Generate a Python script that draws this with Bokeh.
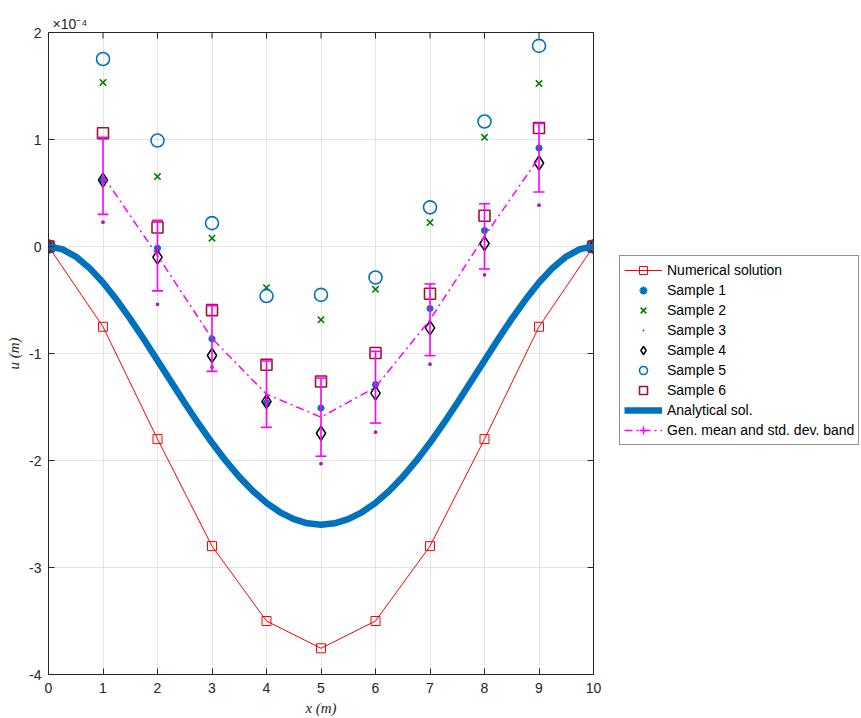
import numpy as np
from bokeh.plotting import figure
from bokeh.models import (Legend, LegendItem, FixedTicker, Whisker, TeeHead,
                          ColumnDataSource, Range1d)
from bokeh.embed import file_html
from bokeh.resources import INLINE

# ---------------- data (values in units of 1e-4 m) ----------------
x_nodes = [0, 1, 2, 3, 4, 5, 6, 7, 8, 9, 10]
numerical = [0, -0.75, -1.80, -2.80, -3.50, -3.755, -3.50, -2.80, -1.80, -0.75, 0]
sample1 = [0, 0.62, -0.016, -0.863, -1.46, -1.51, -1.29, -0.58, 0.15, 0.92, 0]
sample2 = [0, 1.533, 0.654, 0.078, -0.385, -0.685, -0.40, 0.224, 1.02, 1.523, 0]
sample3 = [0, 0.227, -0.54, -1.128, -1.42, -2.03, -1.735, -1.10, -0.265, 0.386, 0]
sample4 = [0, 0.62, -0.10, -1.019, -1.45, -1.745, -1.37, -0.76, 0.028, 0.78, 0]
sample5 = [0, 1.752, 0.99, 0.218, -0.463, -0.452, -0.29, 0.366, 1.168, 1.875, 0]
sample6 = [0, 1.058, 0.178, -0.595, -1.105, -1.262, -0.995, -0.442, 0.287, 1.108, 0]

x_analytical = [0, 0.25, 0.5, 0.75, 1, 1.25, 1.5, 1.75, 2, 2.25, 2.5, 2.75, 3, 3.25,
                3.5, 3.75, 4, 4.25, 4.5, 4.75, 5, 5.25, 5.5, 5.75, 6, 6.25, 6.5,
                6.75, 7, 7.25, 7.5, 7.75, 8, 8.25, 8.5, 8.75, 9, 9.25, 9.5, 9.75, 10]
analytical = [0, -0.025, -0.094, -0.200, -0.337, -0.498, -0.676, -0.867, -1.065,
              -1.265, -1.463, -1.654, -1.835, -2.002, -2.153, -2.285, -2.396,
              -2.484, -2.548, -2.587, -2.600, -2.587, -2.548, -2.484, -2.396,
              -2.285, -2.153, -2.002, -1.835, -1.654, -1.463, -1.265, -1.065,
              -0.867, -0.676, -0.498, -0.337, -0.200, -0.094, -0.025, 0]

x_mean = [1, 2, 3, 4, 5, 6, 7, 8, 9]
gen_mean = [0.66, -0.085, -0.86, -1.38, -1.595, -1.315, -0.685, 0.095, 0.83]
gen_std = [0.36, 0.33, 0.307, 0.31, 0.365, 0.335, 0.335, 0.305, 0.32]

x_ticks = [0, 1, 2, 3, 4, 5, 6, 7, 8, 9, 10]
y_ticks = [-4, -3, -2, -1, 0, 1, 2]
y_tick_labels = ["-4", "-3", "-2", "-1", "0", "1", "2"]
exponent_text = "\u00d710\u207b\u2074"

# ---------------- styles ----------------
AX = "#262626"
BLUE = "#0072BD"
GREEN = "#008000"
PURPLE = "#a81fa3"
DARKRED = "#A2142F"
MAG = "#FF00FF"
FONT = "Liberation Sans"
SERIF = "Liberation Serif"

p = figure(frame_width=545, frame_height=642,
           x_range=Range1d(0, 10), y_range=Range1d(-4, 2),
           output_backend="svg", toolbar_location=None,
           min_border_left=48, min_border_right=268,
           min_border_top=32, min_border_bottom=44,
           background_fill_color="white", border_fill_color="white",
           outline_line_color=AX, outline_line_width=1)

# exponent as title (top-left, above frame)
p.title.text = exponent_text
p.title.align = "left"
p.title.offset = 4
p.title.standoff = 2
p.title.text_font = FONT
p.title.text_font_size = "14px"
p.title.text_font_style = "normal"
p.title.text_color = AX

for ax in (p.xaxis[0], p.yaxis[0]):
    ax.axis_line_color = AX
    ax.axis_line_width = 1
    ax.major_tick_line_color = AX
    ax.major_tick_in = 6
    ax.major_tick_out = 0
    ax.minor_tick_line_color = None
    ax.major_label_text_color = AX
    ax.major_label_text_font = FONT
    ax.major_label_text_font_size = "14px"
    ax.axis_label_text_font = SERIF
    ax.axis_label_text_font_style = "italic"
    ax.axis_label_text_font_size = "15px"
    ax.axis_label_text_color = AX

p.xaxis.ticker = FixedTicker(ticks=x_ticks)
p.yaxis.ticker = FixedTicker(ticks=y_ticks)
p.yaxis.major_label_overrides = {t: s for t, s in zip(y_ticks, y_tick_labels)}
p.xaxis.major_label_standoff = 8
p.yaxis.major_label_standoff = 7
p.xaxis.axis_label = "x (m)"
p.yaxis.axis_label = "u (m)"
p.xaxis.axis_label_standoff = 4
p.yaxis.axis_label_standoff = 4

p.xgrid.ticker = FixedTicker(ticks=x_ticks)
p.ygrid.ticker = FixedTicker(ticks=y_ticks)
for g in (p.xgrid, p.ygrid):
    g.grid_line_color = AX
    g.grid_line_alpha = 0.13
    g.grid_line_width = 1

# inward ticks on the top and right edges of the box (markers clipped at the frame)
p.scatter(x=x_ticks, y=[y_ticks[-1]] * len(x_ticks), marker="dash",
          angle=np.pi / 2, size=12, line_color=AX, line_width=1)
p.scatter(x=[x_ticks[-1]] * len(y_ticks), y=y_ticks, marker="dash",
          size=12, line_color=AX, line_width=1)

# ---------------- glyphs ----------------
r_num = p.line(x_nodes, numerical, line_color="red", line_width=1)
r_num_m = p.scatter(x_nodes, numerical, marker="square", size=9,
                    fill_color=None, line_color="red", line_width=1)
r_s1 = p.scatter(x_nodes, sample1, marker="asterisk", size=7,
                 line_color=BLUE, line_width=2.2)
r_s2 = p.scatter(x_nodes, sample2, marker="x", size=9,
                 line_color=GREEN, line_width=1.6)
r_s3 = p.scatter(x_nodes, sample3, marker="dot", size=15,
                 fill_color=PURPLE, line_color=PURPLE, line_width=1)
r_s4 = p.scatter(x_nodes, sample4, marker="diamond", size=14,
                 fill_color=None, line_color="black", line_width=1.5)
r_s5 = p.scatter(x_nodes, sample5, marker="circle", size=13,
                 fill_color=None, line_color=BLUE, line_width=1.6)
r_s6 = p.scatter(x_nodes, sample6, marker="square", size=11,
                 fill_color=None, line_color=DARKRED, line_width=1.6)
r_ana = p.line(x_analytical, analytical, line_color=BLUE, line_width=6.5)

r_mean = p.line(x_mean, gen_mean, line_color=MAG, line_width=1.5,
                line_dash="8 4 2 4")
src = ColumnDataSource(dict(
    x=x_mean,
    upper=[m + s for m, s in zip(gen_mean, gen_std)],
    lower=[m - s for m, s in zip(gen_mean, gen_std)]))
wh = Whisker(source=src, base="x", upper="upper", lower="lower",
             line_color=MAG, line_width=1.6, level="glyph",
             upper_head=TeeHead(size=11, line_color=MAG, line_width=1.6),
             lower_head=TeeHead(size=11, line_color=MAG, line_width=1.6))
p.add_layout(wh)
# legend proxy for the error-bar symbol (zero size on the plot itself)
r_ibeam = p.scatter(x_mean, gen_mean, marker="cross", size=0,
                    line_color=MAG, line_width=1.6)

# ---------------- legend ----------------
items = [
    LegendItem(label="Numerical solution", renderers=[r_num, r_num_m]),
    LegendItem(label="Sample 1", renderers=[r_s1]),
    LegendItem(label="Sample 2", renderers=[r_s2]),
    LegendItem(label="Sample 3", renderers=[r_s3]),
    LegendItem(label="Sample 4", renderers=[r_s4]),
    LegendItem(label="Sample 5", renderers=[r_s5]),
    LegendItem(label="Sample 6", renderers=[r_s6]),
    LegendItem(label="Analytical sol.", renderers=[r_ana]),
    LegendItem(label="Gen. mean and std. dev. band", renderers=[r_mean, r_ibeam]),
]
legend = Legend(items=items, location=(26, 229),
                border_line_color=AX, border_line_width=1,
                background_fill_color="white", background_fill_alpha=1,
                padding=4, spacing=0, margin=0,
                glyph_width=38, glyph_height=20, label_height=20,
                label_standoff=5, label_text_font=FONT,
                label_text_font_size="14px", label_text_color="black")
p.add_layout(legend, "right")

open("out.html", "w").write(file_html(p, INLINE))
